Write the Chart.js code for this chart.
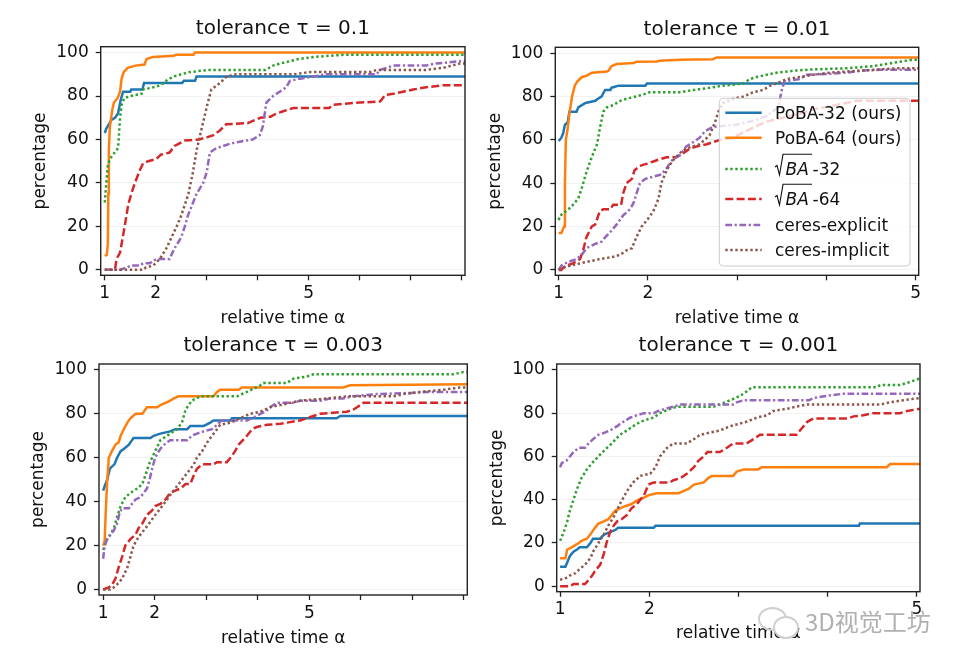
<!DOCTYPE html>
<html>
<head>
<meta charset="utf-8">
<script src="https://cdn.jsdelivr.net/npm/chart.js@4.4.0/dist/chart.umd.min.js"></script>
<style>
  body { margin: 0; background: #fff; }
  .page { position: relative; width: 960px; height: 667px; overflow: hidden; background: #fff; }
  .panel { position: absolute; }
  .mark { position: absolute; left: 805px; top: 609px; font-size: 24px; line-height: 1; font-family: 'Noto Sans CJK SC'; color: #b0b0b0; }
  .bubble { position: absolute; border: 2px solid #cfcfcf; border-radius: 50%; }
</style>
</head>
<body>
<div class="page">
  <div class="panel" style="left:0;top:0"><canvas id="c1" width="480" height="333"></canvas></div>
  <div class="panel" style="left:480px;top:0"><canvas id="c2" width="480" height="333"></canvas></div>
  <div class="panel" style="left:0;top:333px"><canvas id="c3" width="480" height="334"></canvas></div>
  <div class="panel" style="left:480px;top:333px"><canvas id="c4" width="480" height="334"></canvas></div>
  <div class="bubble" style="left:758px;top:607px;width:25px;height:20px"></div>
  <div class="bubble" style="left:773px;top:616px;width:22px;height:19px;background:#fff"></div>
  <div class="mark">3D视觉工坊</div>
</div>
<script>
const SERIES_NAMES = ['PoBA-32 (ours)', 'PoBA-64 (ours)', '√BA-32', '√BA-64', 'ceres-explicit', 'ceres-implicit']
const TITLES = ['tolerance τ = 0.1', 'tolerance τ = 0.01', 'tolerance τ = 0.003', 'tolerance τ = 0.001']
const Y_TICKS = [0, 20, 40, 60, 80, 100]
const X_TICKS_LONG = [1, 2, 3, 4, 5, 6, 7, 8]
const X_TICKS_SHORT = [1, 2, 3, 4, 5]
const X_LABELS = [1, 2, 5]

// tolerance 0.1
const p1_poba32 = [[1,63],[1.03,65],[1.08,67],[1.13,69],[1.2,70],[1.26,72],[1.31,78],[1.36,82],[1.5,82],[1.52,83],[1.74,83],[1.77,86],[2.52,86],[2.55,87],[2.77,87],[2.8,89],[8.065,89]]
const p1_poba64 = [[1,6.4],[1.04,7],[1.06,12],[1.07,35],[1.08,55],[1.1,66],[1.15,74],[1.18,77],[1.25,79],[1.3,82],[1.33,88],[1.37,91],[1.45,93],[1.6,94],[1.78,94.5],[1.82,97],[1.95,98],[2.35,98.5],[2.4,99],[2.74,99],[2.77,100],[8.065,100]]
const p1_sqrtba32 = [[1,31],[1.03,40],[1.06,48],[1.1,51],[1.16,53],[1.26,56],[1.3,70],[1.33,76],[1.38,79],[1.5,80],[1.72,81],[1.75,83],[1.95,84],[2.1,85],[2.2,87],[2.35,89],[2.65,91],[3.05,92],[4.15,92],[4.3,94],[4.45,95],[4.8,97],[5.1,98],[5.7,99],[8.065,99]]
const p1_sqrtba64 = [[1,0],[1.2,0],[1.23,5],[1.3,8],[1.33,12],[1.39,20],[1.46,30],[1.52,35],[1.59,40],[1.69,46],[1.75,49],[1.85,50],[2.01,51],[2.1,53],[2.27,54],[2.37,57],[2.57,59.5],[2.85,60],[3.0,61],[3.13,62],[3.25,64],[3.38,67],[3.8,67.5],[3.85,68],[4.05,70],[4.25,70.5],[4.37,72],[4.5,73],[4.7,74.5],[5.4,74.5],[5.48,76],[6.0,77],[6.4,77.5],[6.5,80.5],[6.66,81],[6.85,82],[7.05,83],[7.3,84],[7.65,85],[8.065,85]]
const p1_ceres_exp = [[1,0],[1.29,0],[1.42,1],[1.52,2],[1.69,2],[1.75,3],[1.88,3],[2.01,5],[2.27,5],[2.37,10],[2.5,15],[2.57,20],[2.63,25],[2.8,35],[2.93,40],[3.0,45],[3.06,54],[3.19,56],[3.32,57],[3.45,58],[3.65,59],[3.9,60],[4.04,62],[4.1,66],[4.17,77],[4.3,80],[4.43,82],[4.56,84],[4.63,87],[4.83,88],[5.09,89],[5.35,90],[6.33,90],[6.4,92],[6.66,94],[7.3,94],[7.5,95],[7.97,96],[8.065,96]]
const p1_ceres_imp = [[1,0],[1.75,0],[1.8,1],[1.95,2],[2.08,5],[2.21,10],[2.31,15],[2.41,20],[2.5,25],[2.64,35],[2.73,45],[2.8,55],[2.9,65],[3.0,75],[3.09,83],[3.26,86],[3.39,89],[3.58,90],[4.7,90],[5.02,91],[6.2,91],[6.33,92],[7.3,92],[7.64,93],[7.97,95],[8.065,95]]

// tolerance 0.01
const p2_poba32 = [[1,59.5],[1.03,61],[1.05,63],[1.07,67],[1.1,68],[1.12,73],[1.2,73],[1.22,75],[1.26,76],[1.3,77],[1.35,77.5],[1.41,78],[1.44,79],[1.48,80],[1.52,83],[1.58,83],[1.59,84],[1.63,84.5],[1.67,85],[1.97,85],[1.99,86],[5.034,86]]
const p2_poba64 = [[1,17],[1.03,17],[1.05,19],[1.06,20],[1.07,40],[1.08,60],[1.1,65],[1.12,72],[1.15,80],[1.18,85],[1.21,87],[1.26,89],[1.31,89.5],[1.37,91],[1.54,91.5],[1.56,92],[1.59,94],[1.65,95],[1.84,95.5],[1.87,96],[2.1,96.2],[2.13,96.5],[2.36,97],[2.73,97.2],[2.77,98],[5.034,98]]
const p2_sqrtba32 = [[1,23],[1.015,25],[1.05,26],[1.11,28],[1.16,30],[1.22,33],[1.26,38],[1.31,45],[1.37,52],[1.43,58],[1.46,65],[1.5,73],[1.54,75],[1.61,76],[1.69,78],[1.76,79],[1.87,80],[1.95,81],[2.02,82],[2.36,82],[2.51,83],[2.69,84],[2.84,85],[3.07,86],[3.14,88],[3.22,89],[3.33,90],[3.44,91],[3.66,92],[3.85,92.5],[4.22,93],[4.52,94],[4.67,95],[4.82,96],[4.97,97],[5.034,97]]
const p2_sqrtba64 = [[1,0],[1.03,0],[1.05,1],[1.09,2],[1.16,3],[1.24,5],[1.28,10],[1.31,15],[1.37,20],[1.41,21],[1.46,27],[1.5,28],[1.58,28],[1.61,30],[1.7,30],[1.72,35],[1.76,40],[1.82,42],[1.85,46],[1.91,48],[1.99,49],[2.06,50],[2.13,51],[2.21,52],[2.32,52],[2.4,54],[2.47,56],[2.55,57],[2.66,58],[2.73,59],[2.81,60],[2.95,61],[3.1,64],[3.3,68],[3.48,70],[3.7,72],[3.85,74],[4.1,76],[4.34,78],[5.034,78]]
const p2_ceres_exp = [[1,0],[1.03,2],[1.07,3],[1.13,4],[1.2,5],[1.26,7],[1.31,10],[1.41,12],[1.48,13],[1.52,15],[1.59,18],[1.65,21],[1.72,25],[1.8,28],[1.84,31],[1.87,35],[1.91,40],[1.97,42],[2.06,43],[2.15,44],[2.21,47],[2.28,51],[2.36,53],[2.43,57],[2.51,59],[2.58,61],[2.64,64],[2.73,66],[2.99,67],[3.2,69],[3.33,71],[3.46,75],[3.5,83],[3.53,87],[3.7,88],[3.78,90],[4.04,90.5],[4.22,91],[4.41,92],[4.6,92.3],[5.034,92.3]]
const p2_ceres_imp = [[1,0],[1.05,1],[1.13,2],[1.24,3],[1.35,4],[1.46,5],[1.61,6],[1.69,7],[1.76,9],[1.82,10],[1.87,15],[1.93,20],[1.99,23],[2.06,27],[2.12,33],[2.15,40],[2.21,46],[2.27,50],[2.36,54],[2.43,56],[2.58,58],[2.69,62],[2.75,68],[2.79,73],[2.84,77],[2.96,79],[3.07,80],[3.18,82],[3.29,83],[3.37,85],[3.44,86],[3.55,88],[3.7,89],[3.85,90],[4.04,91],[4.41,92],[4.78,93],[5.034,93]]

// tolerance 0.003
const p3_poba32 = [[1,45],[1.03,47],[1.08,50],[1.13,55],[1.17,56],[1.22,57],[1.27,60],[1.34,63],[1.4,64],[1.5,66],[1.53,67],[1.59,69],[1.92,69],[1.98,70],[2.11,71],[2.3,72],[2.4,73],[2.63,73],[2.69,74.5],[2.95,74.5],[3.08,76],[3.14,77],[3.47,77],[3.5,78],[5.53,78],[5.6,79],[8.065,79]]
const p3_poba64 = [[1,20],[1.03,22],[1.05,35],[1.08,50],[1.11,60],[1.17,63],[1.24,66],[1.3,67],[1.34,70],[1.4,73],[1.47,76],[1.53,78],[1.63,80],[1.76,80],[1.82,82],[1.85,83],[2.05,83],[2.11,84],[2.21,85],[2.3,86],[2.37,87],[2.47,88],[3.14,88],[3.21,90],[3.27,91],[3.63,91],[3.69,92],[5.66,92],[5.79,93],[8.065,93.5]]
const p3_sqrtba32 = [[1,18],[1.03,20],[1.08,23],[1.14,25],[1.21,28],[1.27,33],[1.34,38],[1.43,42],[1.53,44],[1.66,46],[1.76,48],[1.82,52],[1.89,57],[1.95,60],[2.05,65],[2.11,68],[2.24,70],[2.43,73],[2.53,76],[2.6,82],[2.72,86],[2.89,88],[3.6,88],[3.79,90],[4.05,93],[4.11,94],[4.56,94],[4.69,96],[4.95,97],[5.08,98],[7.79,98],[7.99,99],[8.065,99]]
const p3_sqrtba64 = [[1,0],[1.11,1],[1.17,2],[1.24,5],[1.3,10],[1.37,15],[1.43,20],[1.53,23],[1.63,25],[1.69,28],[1.76,30],[1.85,34],[1.95,36],[2.01,38],[2.11,39],[2.21,41],[2.3,44],[2.4,45],[2.5,46],[2.6,48],[2.69,48],[2.76,52],[2.82,55],[2.92,57],[3.14,57],[3.21,58],[3.4,58],[3.47,60],[3.56,63],[3.63,66],[3.79,70],[3.89,73],[3.98,74],[4.18,75],[4.44,75.5],[4.57,76],[4.82,77],[4.95,78],[5.21,80],[5.47,80.5],[5.73,81],[5.86,82],[5.99,84],[6.05,85],[8.065,85]]
const p3_ceres_exp = [[1,14],[1.03,20],[1.08,23],[1.14,25],[1.21,27],[1.27,30],[1.32,35],[1.37,37],[1.5,37],[1.56,39],[1.63,41],[1.72,42],[1.79,44],[1.85,46],[1.9,50],[1.95,55],[2.01,60],[2.08,63],[2.14,65],[2.24,67],[2.3,68],[2.63,68],[2.72,70],[2.82,71],[2.95,72],[3.11,73],[3.21,75],[3.3,77],[3.79,77],[3.89,78],[4.05,80],[4.15,81],[4.24,83],[4.37,85],[4.69,85],[4.82,86],[5.21,86],[5.4,87],[5.66,87],[5.86,88],[6.31,89],[6.95,89.5],[7.28,90],[8.065,90]]
const p3_ceres_imp = [[1,0],[1.14,0],[1.21,1],[1.3,3],[1.37,5],[1.47,10],[1.53,15],[1.59,20],[1.69,24],[1.79,27],[1.89,30],[1.98,33],[2.08,36],[2.21,40],[2.3,43],[2.43,47],[2.53,50],[2.63,53],[2.76,57],[2.82,60],[2.92,63],[3.02,67],[3.11,70],[3.18,72],[3.27,75],[3.47,76],[3.66,78],[3.85,80],[4.05,81],[4.24,83],[4.44,84],[4.63,85],[4.82,86],[5.34,87],[5.73,88],[6.63,88],[6.83,89],[7.15,90],[7.6,91],[7.92,92],[8.065,92]]

// tolerance 0.001
const p4_poba32 = [[1,9],[1.06,9],[1.08,11],[1.11,14],[1.15,16],[1.19,17],[1.22,18],[1.3,18],[1.34,20],[1.37,22],[1.45,22],[1.47,23],[1.5,24],[1.56,25],[1.62,26],[1.65,27],[2.05,27],[2.07,28],[4.35,28],[4.36,29],[5.034,29]]
const p4_poba64 = [[1,13],[1.06,13],[1.08,17],[1.13,18],[1.17,19],[1.21,20],[1.24,21],[1.3,22],[1.34,24],[1.39,27],[1.43,29],[1.49,30],[1.54,31],[1.58,33],[1.62,35],[1.67,36],[1.73,37],[1.8,38],[1.88,40],[1.94,41],[1.99,42],[2.08,43],[2.33,43],[2.38,44],[2.44,45],[2.5,47],[2.61,48],[2.66,50],[2.7,51],[2.94,51],[2.98,53],[3.06,54],[3.22,54],[3.26,55],[4.66,55],[4.7,56.5],[5.034,56.5]]
const p4_sqrtba32 = [[1,21],[1.04,25],[1.08,30],[1.11,35],[1.15,40],[1.19,45],[1.24,50],[1.3,54],[1.36,57],[1.43,60],[1.5,63],[1.58,66],[1.67,70],[1.75,72],[1.82,74],[1.9,76],[1.97,77],[2.05,78],[2.12,80],[2.23,82],[2.31,83],[2.72,83],[2.79,84],[2.91,86],[3.02,88],[3.09,90],[3.15,92],[4.55,92],[4.59,93],[4.81,93],[4.89,94],[5.034,96]]
const p4_sqrtba64 = [[1,0],[1.11,0],[1.15,1],[1.28,1],[1.32,3],[1.36,5],[1.39,7],[1.45,10],[1.49,15],[1.52,20],[1.56,25],[1.6,28],[1.64,30],[1.69,31],[1.75,33],[1.8,36],[1.86,38],[1.94,42],[1.99,47],[2.05,48],[2.23,48],[2.27,49],[2.35,50],[2.42,52],[2.5,55],[2.55,58],[2.61,60],[2.65,62],[2.79,62],[2.87,64],[2.94,66],[3.09,66],[3.17,68],[3.24,70],[3.65,70],[3.71,73],[3.77,76],[3.84,77.5],[4.22,77.5],[4.29,78.5],[4.4,79],[4.51,80],[4.81,80],[4.89,81],[5.034,82]]
const p4_ceres_exp = [[1,55],[1.02,57],[1.07,58],[1.11,60],[1.15,62],[1.21,64],[1.28,64],[1.32,66],[1.37,68],[1.43,70],[1.5,71],[1.56,72],[1.64,74],[1.67,75],[1.75,77],[1.79,78],[1.86,79],[1.94,80],[2.05,80],[2.1,81],[2.18,82],[2.27,83],[2.35,84],[2.94,84],[2.98,85],[3.06,86],[3.79,86],[3.84,87],[3.99,88],[4.18,89],[5.034,89]]
const p4_ceres_imp = [[1,3],[1.08,4],[1.11,5],[1.17,6],[1.22,8],[1.28,10],[1.34,13],[1.37,16],[1.43,20],[1.49,24],[1.54,28],[1.6,32],[1.67,38],[1.75,44],[1.82,48],[1.9,51],[2.01,52],[2.07,55],[2.12,60],[2.2,64],[2.27,66],[2.42,66],[2.5,68],[2.57,70],[2.68,71],[2.79,72],[2.91,74],[3.09,76],[3.21,78],[3.32,79],[3.39,81],[3.54,82],[3.65,83],[3.77,84],[4.59,84],[4.7,85],[4.85,86],[5.034,87]]

const SERIES_COLORS = ['#1f77b4', '#ff7f0e', '#2ca02c', '#d62728', '#9467bd', '#8c564b']
const SERIES_DASHES = [[], [], [2.4, 2.6], [8, 3.3], [6.7, 2.6, 2.2, 2.6], [2.4, 2.6]]
const LINE_WIDTH = 2.5
const TEXT_COLOR = '#111'

Chart.defaults.font.family = '"DejaVu Sans", sans-serif'
Chart.defaults.color = TEXT_COLOR

const PANELS = [
    {id: 'c1', title: TITLES[0], series: [p1_poba32, p1_poba64, p1_sqrtba32, p1_sqrtba64, p1_ceres_exp, p1_ceres_imp],
     x_min: 0.92, x_max: 8.065, x_ticks: X_TICKS_LONG, y_width: 100.7, y_title_pad: 30.7, pad_right: 15,
     title_pad: {top: 17.1, bottom: 5.6}, pad_bottom: 4.2, x_height: 53.5, legend: false},
    {id: 'c2', title: TITLES[1], series: [p2_poba32, p2_poba64, p2_sqrtba32, p2_sqrtba64, p2_ceres_exp, p2_ceres_imp],
     x_min: 0.962, x_max: 5.034, x_ticks: X_TICKS_SHORT, y_width: 75.3, y_title_pad: 5.3, pad_right: 41.3,
     title_pad: {top: 17.7, bottom: 5.6}, pad_bottom: 4.2, x_height: 53.5, legend: true},
    {id: 'c3', title: TITLES[2], series: [p3_poba32, p3_poba64, p3_sqrtba32, p3_sqrtba64, p3_ceres_exp, p3_ceres_imp],
     x_min: 0.92, x_max: 8.065, x_ticks: X_TICKS_LONG, y_width: 99, y_title_pad: 28.8, pad_right: 12.7,
     title_pad: {top: 0.8, bottom: 6.2}, pad_bottom: 17.9, x_height: 54.1, legend: false},
    {id: 'c4', title: TITLES[3], series: [p4_poba32, p4_poba64, p4_sqrtba32, p4_sqrtba64, p4_ceres_exp, p4_ceres_imp],
     x_min: 0.962, x_max: 5.034, x_ticks: X_TICKS_SHORT, y_width: 76.7, y_title_pad: 7.3, pad_right: 40,
     title_pad: {top: 0.8, bottom: 6.2}, pad_bottom: 22.8, x_height: 52.5, legend: false}
]

const frame_plugin = {
    id: 'frame',
    afterDatasetsDraw(chart) {
        let a = chart.chartArea
        let ctx = chart.ctx
        ctx.save()
        ctx.strokeStyle = '#222'
        ctx.lineWidth = 1.4
        ctx.setLineDash([])
        ctx.strokeRect(a.left, a.top, a.right - a.left, a.bottom - a.top)
        ctx.restore()
    }
}

function rounded_box(ctx, x, y, w, h, r) {
    ctx.beginPath()
    ctx.moveTo(x + r, y)
    ctx.arcTo(x + w, y, x + w, y + h, r)
    ctx.arcTo(x + w, y + h, x, y + h, r)
    ctx.arcTo(x, y + h, x, y, r)
    ctx.arcTo(x, y, x + w, y, r)
    ctx.closePath()
}

function draw_sqrt_label(ctx, name, x, y) {
    let rest = name.slice(1)
    let root = rest.split('-')[0]
    let suffix = rest.slice(root.length)
    let base = y + 6
    ctx.lineWidth = 1.1
    ctx.setLineDash([])
    ctx.strokeStyle = TEXT_COLOR
    ctx.beginPath()
    ctx.moveTo(x, y - 2)
    ctx.lineTo(x + 2, y - 3.5)
    ctx.lineTo(x + 4.5, base)
    ctx.lineTo(x + 8, y - 14.7)
    ctx.lineTo(x + 37, y - 14.7)
    ctx.stroke()
    ctx.font = 'italic 17px "DejaVu Sans"'
    ctx.fillText(root, x + 10.5, base)
    ctx.font = '17px "DejaVu Sans"'
    ctx.fillText(suffix, x + 37.5, base)
}

const legend_plugin = {
    id: 'inner_legend',
    afterDatasetsDraw(chart, args, opts) {
        if (!opts.show) return
        let ctx = chart.ctx
        ctx.save()
        rounded_box(ctx, 239.3, 98.3, 190.7, 167.7, 4)
        ctx.fillStyle = 'rgba(255,255,255,0.8)'
        ctx.fill()
        ctx.strokeStyle = '#cccccc'
        ctx.lineWidth = 1
        ctx.stroke()
        let rows = [112.7, 137.7, 169, 199, 225, 250]
        chart.data.datasets.forEach((ds, i) => {
            let y = rows[i]
            ctx.strokeStyle = ds.borderColor
            ctx.lineWidth = LINE_WIDTH
            ctx.setLineDash(ds.borderDash)
            ctx.beginPath()
            ctx.moveTo(245.3, y)
            ctx.lineTo(281.7, y)
            ctx.stroke()
            ctx.fillStyle = TEXT_COLOR
            ctx.textBaseline = 'alphabetic'
            ctx.textAlign = 'left'
            if (ds.label.startsWith('√')) {
                draw_sqrt_label(ctx, ds.label, 295, y)
            } else {
                ctx.font = '17px "DejaVu Sans"'
                ctx.fillText(ds.label, 295, y + 6.2)
            }
        })
        ctx.restore()
    }
}

function make_chart(panel) {
    let datasets = panel.series.map((pts, i) => ({
        label: SERIES_NAMES[i],
        data: pts.map(p => ({x: p[0], y: p[1]})),
        borderColor: SERIES_COLORS[i],
        borderDash: SERIES_DASHES[i],
        borderWidth: LINE_WIDTH,
        pointRadius: 0,
        fill: false,
        tension: 0,
        order: 5 - i
    }))

    let ctx = document.getElementById(panel.id).getContext('2d')
    return new Chart(ctx, {
        type: 'line',
        data: {datasets: datasets},
        options: {
            responsive: false,
            animation: false,
            layout: {padding: {left: 0, right: panel.pad_right, top: 0, bottom: panel.pad_bottom}},
            plugins: {
                legend: {display: false},
                tooltip: {enabled: false},
                title: {
                    display: true,
                    text: panel.title,
                    fullSize: false,
                    font: {size: 20, weight: 'normal'},
                    color: TEXT_COLOR,
                    padding: panel.title_pad
                },
                inner_legend: {show: panel.legend}
            },
            scales: {
                x: {
                    type: 'linear',
                    min: panel.x_min,
                    max: panel.x_max,
                    afterBuildTicks: s => { s.ticks = panel.x_ticks.map(v => ({value: v})) },
                    afterFit: s => { s.height = panel.x_height },
                    ticks: {
                        autoSkip: false,
                        maxRotation: 0,
                        padding: 3,
                        font: {size: 17},
                        color: TEXT_COLOR,
                        callback: v => X_LABELS.includes(v) ? String(v) : ''
                    },
                    grid: {drawOnChartArea: false, tickLength: 5, tickColor: '#222', tickWidth: 1.3},
                    border: {display: false},
                    title: {display: true, text: 'relative time α', font: {size: 17}, color: TEXT_COLOR, padding: {top: 0, bottom: 0}}
                },
                y: {
                    min: -2.5,
                    max: 102.7,
                    afterBuildTicks: s => { s.ticks = Y_TICKS.map(v => ({value: v})) },
                    afterFit: s => { s.width = panel.y_width },
                    ticks: {padding: 7, font: {size: 17}, color: TEXT_COLOR},
                    grid: {color: 'rgba(0,0,0,0.05)', lineWidth: 1, tickLength: 5, tickColor: '#222', tickWidth: 1.3},
                    border: {display: false},
                    title: {display: true, text: 'percentage', font: {size: 17}, color: TEXT_COLOR, padding: {top: panel.y_title_pad, bottom: 0}}
                }
            }
        },
        plugins: [frame_plugin, legend_plugin]
    })
}

PANELS.forEach(p => make_chart(p))
</script>
</body>
</html>
